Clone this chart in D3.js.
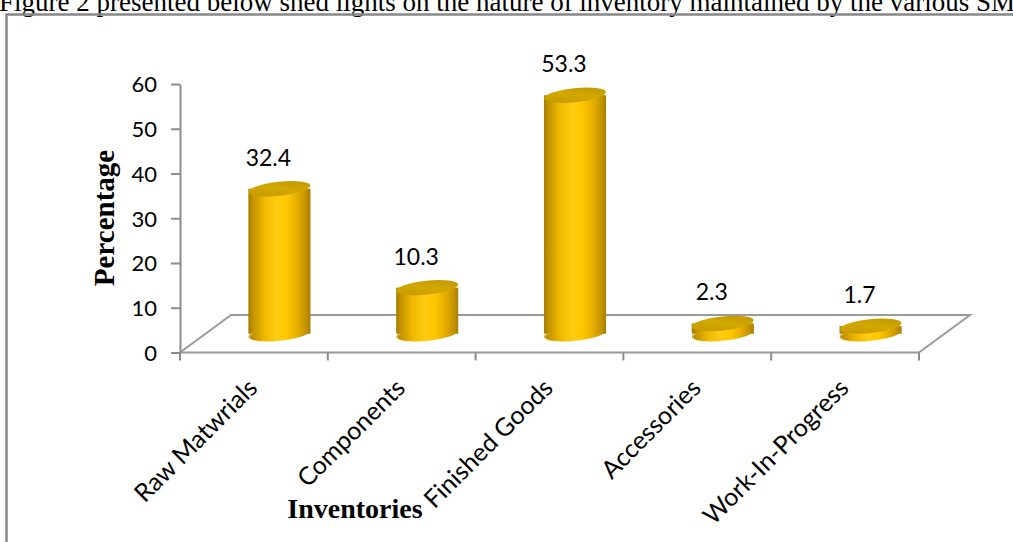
<!DOCTYPE html>
<html>
<head>
<meta charset="utf-8">
<script src="https://cdn.jsdelivr.net/npm/d3@7"></script>
<style>
  html, body { margin: 0; padding: 0; background: #fff; }
  svg { display: block; }
</style>
</head>
<body>
<script>
const categories = ["Raw Matwrials", "Components", "Finished Goods", "Accessories", "Work-In-Progress"];
const values = [32.4, 10.3, 53.3, 2.3, 1.7];
const yTicks = [0, 10, 20, 30, 40, 50, 60];
const introText = "Figure 2 presented below shed lights on the nature of inventory maintained by the various SMEs";
const yTitle = "Percentage";
const xTitle = "Inventories";

const W = 1013, H = 542;
const svg = d3.select("body").append("svg").attr("width", W).attr("height", H);
svg.append("rect").attr("width", W).attr("height", H).attr("fill", "#fff");

// intro text (clipped at top, as in the source page)
svg.append("text").attr("x", -1).attr("y", 11)
  .attr("font-family", "'Liberation Serif', 'Times New Roman', serif")
  .attr("font-size", 27).attr("fill", "#000").text(introText);

// frame
svg.append("rect").attr("x", 6.5).attr("y", 14.5).attr("width", 1200).attr("height", 700)
  .attr("fill", "none").attr("stroke", "#888").attr("stroke-width", 2.5);

const x = d3.scaleBand().domain(categories).range([180, 919]).padding(0);
const y = d3.scaleLinear().domain([0, 60]).range([352.5, 84]);
const depthX = 51, depthY = -37.5;
const bx = depthX / 2, by = depthY / 2;
const barW = x.bandwidth() * 0.42;

const grey = "#8c8c8c";

// floor
const [x0, x1] = x.range();
const y0 = y(0);
const floor = svg.append("g").attr("fill", "none").attr("stroke", "#9a9a9a").attr("stroke-width", 2);
floor.append("path").attr("d", d3.line()([[x0, y0], [x0 + depthX, y0 + depthY], [x1 + depthX, y0 + depthY], [x1, y0]]));
floor.append("line").attr("x1", x0).attr("x2", x1).attr("y1", y0).attr("y2", y0);

// category ticks
const bounds = categories.map(c => x(c)).concat([x1]);
floor.selectAll("line.ct").data(bounds).join("line").attr("class", "ct")
  .attr("x1", d => d).attr("x2", d => d).attr("y1", y0).attr("y2", y0 + 8).attr("stroke", grey);

// y axis
const yAxis = svg.append("g").attr("transform", `translate(${x0},0)`)
  .call(d3.axisLeft(y).tickValues(yTicks).tickSize(9).tickPadding(14).tickSizeOuter(0));
yAxis.select(".domain").attr("stroke", grey).attr("stroke-width", 2);
yAxis.selectAll(".tick line").attr("stroke", grey).attr("stroke-width", 2);
yAxis.selectAll(".tick text").attr("font-family", "Lato, 'Open Sans', sans-serif")
  .attr("font-size", 22).attr("fill", "#000").attr("dy", "0.36em");

// gradients
const defs = svg.append("defs");
const bodyGrad = defs.append("linearGradient").attr("id", "bodyGrad").attr("x1", 0).attr("x2", 1).attr("y1", 0).attr("y2", 0);
[[0, "#a67c00"], [0.08, "#c49400"], [0.25, "#eeb800"], [0.45, "#ffcc10"], [0.62, "#ffc800"], [0.8, "#e4ac00"], [0.93, "#c29200"], [1, "#a67e00"]]
  .forEach(([o, c]) => bodyGrad.append("stop").attr("offset", o).attr("stop-color", c));
const topGrad = defs.append("linearGradient").attr("id", "topGrad").attr("x1", 0).attr("x2", 1).attr("y1", 1).attr("y2", 0);
[[0, "#c29600"], [0.5, "#d2a800"], [1, "#bf9500"]]
  .forEach(([o, c]) => topGrad.append("stop").attr("offset", o).attr("stop-color", c));

const rx = barW / 2, ry = 7, tilt = -6;
const bars = svg.append("g").selectAll("g").data(categories).join("g");
bars.each(function (c, i) {
  const g = d3.select(this);
  const cx = x(c) + x.bandwidth() / 2 + bx;
  const yb = y(0) + by;
  const yt = y(values[i]) + by;
  g.append("ellipse").attr("cx", cx).attr("cy", yb).attr("rx", rx).attr("ry", ry)
    .attr("transform", `rotate(${tilt},${cx},${yb})`).attr("fill", "url(#bodyGrad)");
  g.append("ellipse").attr("cx", cx).attr("cy", yb + 0.5).attr("rx", rx - 1).attr("ry", ry)
    .attr("transform", `rotate(${tilt},${cx},${yb})`).attr("fill", "none")
    .attr("stroke", "#ffe27a").attr("stroke-width", 1).attr("stroke-opacity", 0.6)
    .attr("stroke-dasharray", `0 ${Math.PI * rx * 0.55} ${Math.PI * rx} 1000`);
  g.append("rect").attr("x", cx - rx).attr("y", yt).attr("width", barW).attr("height", Math.max(0, yb - yt))
    .attr("fill", "url(#bodyGrad)");
  g.append("ellipse").attr("cx", cx).attr("cy", yt).attr("rx", rx).attr("ry", ry)
    .attr("transform", `rotate(${tilt},${cx},${yt})`).attr("fill", "url(#topGrad)");
  g.append("text").attr("x", cx - 11).attr("y", yt - 23).attr("text-anchor", "middle")
    .attr("font-family", "Lato, 'Open Sans', sans-serif").attr("font-size", 23).attr("fill", "#000")
    .text(values[i]);
});

// category labels
svg.append("g").selectAll("text").data(categories).join("text")
  .attr("transform", c => `translate(${x(c) + x.bandwidth() / 2 + 5},${y0 + 37}) rotate(-45)`)
  .attr("text-anchor", "end")
  .attr("font-family", "Lato, 'Open Sans', sans-serif").attr("font-size", 25).attr("fill", "#000")
  .text(c => c);

// axis titles
svg.append("text").attr("transform", `translate(114,218) rotate(-90)`).attr("text-anchor", "middle")
  .attr("font-family", "'Liberation Serif', 'Times New Roman', serif").attr("font-weight", "bold")
  .attr("font-size", 29).attr("fill", "#000").text(yTitle);
svg.append("text").attr("x", 355).attr("y", 518).attr("text-anchor", "middle")
  .attr("font-family", "'Liberation Serif', 'Times New Roman', serif").attr("font-weight", "bold")
  .attr("font-size", 28).attr("fill", "#000").text(xTitle);
</script>
</body>
</html>
